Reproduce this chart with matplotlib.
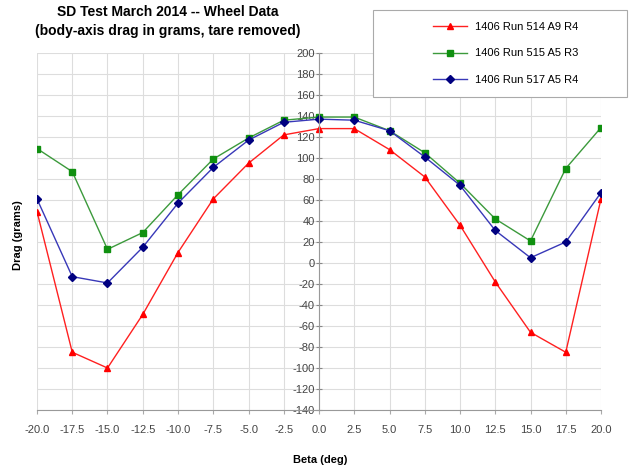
import numpy as np
import matplotlib.pyplot as plt
from matplotlib.patches import Rectangle

plt.rcParams['font.family'] = ['Liberation Sans', 'DejaVu Sans']
plt.rcParams['axes.unicode_minus'] = False

beta = [-20.0, -17.5, -15.0, -12.5, -10.0, -7.5, -5.0, -2.5, 0.0,
        2.5, 5.0, 7.5, 10.0, 12.5, 15.0, 17.5, 20.0]

run514 = [49, -85, -100, -49, 10, 61, 95, 122, 128, 128, 108, 82, 36, -18, -66, -85, 61]
run515 = [109, 87, 13, 29, 65, 99, 119, 136, 139, 139, 126, 105, 76, 42, 21, 90, 129]
run517 = [61, -13, -19, 15, 57, 91, 117, 134, 137, 136, 126, 101, 74, 31, 5, 20, 67]

labels = ['1406 Run 514 A9 R4', '1406 Run 515 A5 R3', '1406 Run 517 A5 R4']

fig = plt.figure(figsize=(6.38, 4.71), dpi=100)
ax = fig.add_axes([37/638, 1-410/471, (601-37)/638, (410-53)/471])

l1, = ax.plot(beta, run514, color='#ff2020', lw=1.0, marker='^', ms=5,
              mfc='#ff0000', mec='#ff0000')
l2, = ax.plot(beta, run515, color='#3c9a3c', lw=1.0, marker='s', ms=5,
              mfc='#109010', mec='#109010')
l3, = ax.plot(beta, run517, color='#3838b8', lw=1.0, marker='D', ms=4,
              mfc='#000080', mec='#000080')

ax.set_xlim(-20, 20)
ax.set_ylim(-140, 200)
ax.set_xticks(np.arange(-20, 20.1, 2.5))
ax.set_xticklabels(['%.1f' % v for v in np.arange(-20, 20.1, 2.5)], fontsize=8, color='#444444')
ax.set_yticks(np.arange(-140, 201, 20))
ax.tick_params(axis='y', labelsize=8, labelcolor='#444444', direction='inout', length=4, color='#888888', pad=1)
ax.tick_params(axis='x', direction='out', length=3, color='#aaaaaa', pad=8)

ax.grid(True, color='#dddddd', lw=0.8)
ax.set_axisbelow(True)

for s in ['top', 'right']:
    ax.spines[s].set_visible(False)
ax.spines['left'].set_position(('data', 0))
ax.spines['left'].set_color('#999999')
ax.spines['bottom'].set_color('#999999')

fig.text(18/638, 1-235/471, 'Drag (grams)', rotation=90, ha='center', va='center',
         fontsize=8, fontweight='bold')
fig.text(320/638, 1-460/471, 'Beta (deg)', ha='center', va='center',
         fontsize=8, fontweight='bold')
fig.text(168/638, 1-12/471, 'SD Test March 2014 -- Wheel Data', ha='center', va='center',
         fontsize=10, fontweight='bold')
fig.text(168/638, 1-31/471, '(body-axis drag in grams, tare removed)', ha='center', va='center',
         fontsize=10, fontweight='bold')

# legend box (frame drawn separately so it can match the reference size)
box = (373/638, 1-97/471, (627-373)/638, 87/471)
fig.patches.append(Rectangle((box[0], box[1]), box[2], box[3], transform=fig.transFigure,
                             facecolor='white', edgecolor='#aaaaaa', lw=0.8, zorder=5))
leg = fig.legend([l1, l2, l3], labels, loc='center',
                 bbox_to_anchor=(box[0] + 6/638, box[1], box[2], box[3]),
                 fontsize=8, frameon=False, labelspacing=1.5, handlelength=3,
                 borderaxespad=0)
leg.set_zorder(6)

fig.savefig('out.png', dpi=100)
